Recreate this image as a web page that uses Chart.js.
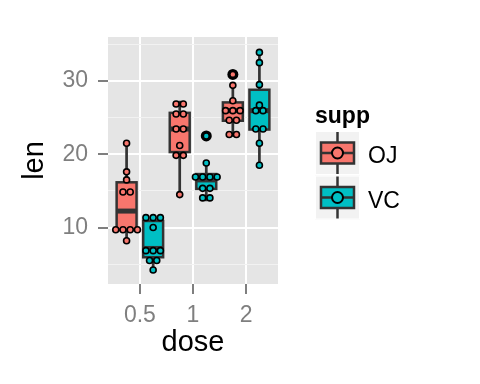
<!DOCTYPE html>
<html>
<head>
<meta charset="utf-8">
<script src="https://cdn.jsdelivr.net/npm/chart.js@4.4.0/dist/chart.umd.min.js"></script>
<style>
  html, body { margin: 0; padding: 0; background: #fff; }
  #wrap { width: 480px; height: 384px; }
</style>
</head>
<body>
<div id="wrap"><canvas id="toothChart" width="480" height="384"></canvas></div>
<script>
const doseLabels = ['0.5', '1', '2'];
const suppNames = ['OJ', 'VC'];
const suppColors = ['#F8766D', '#00BFC4'];
const yTicks = [10, 20, 30];
const yMinorTicks = [5, 15, 25, 35];

// len, one array per supp / dose
const ojDose05 = [15.2, 21.5, 17.6, 9.7, 14.5, 10, 8.2, 9.4, 16.5, 9.7];
const ojDose1 = [19.7, 23.3, 23.6, 26.4, 20, 25.2, 25.8, 21.2, 14.5, 27.3];
const ojDose2 = [25.5, 26.4, 22.4, 24.5, 24.8, 30.9, 26.4, 27.3, 29.4, 23];
const vcDose05 = [4.2, 11.5, 7.3, 5.8, 6.4, 10, 11.2, 11.2, 5.2, 7];
const vcDose1 = [16.5, 16.5, 15.2, 17.3, 22.5, 17.3, 13.6, 14.5, 18.8, 15.5];
const vcDose2 = [23.6, 18.5, 33.9, 25.5, 26.4, 32.5, 26.7, 21.5, 23.3, 29.5];

const groups = [
  [ojDose05, ojDose1, ojDose2],
  [vcDose05, vcDose1, vcDose2]
];

const FONT = "'Liberation Sans', Arial, Helvetica, sans-serif";
const DODGE = 0.25;      // half of dodge width
const BOX_HALF = 0.1875; // half box width
const DOT_STEP = 0.136;  // one dot diameter in x units

function quantile(sorted, p) {
  const h = (sorted.length - 1) * p;
  const lo = Math.floor(h);
  const hi = Math.min(lo + 1, sorted.length - 1);
  return sorted[lo] + (h - lo) * (sorted[hi] - sorted[lo]);
}

function boxStats(values) {
  const s = [...values].sort((a, b) => a - b);
  const q1 = quantile(s, 0.25), med = quantile(s, 0.5), q3 = quantile(s, 0.75);
  const iqr = q3 - q1;
  const inside = s.filter(v => v >= q1 - 1.5 * iqr && v <= q3 + 1.5 * iqr);
  return {
    q1, med, q3,
    lo: inside[0],
    hi: inside[inside.length - 1],
    out: s.filter(v => v < q1 - 1.5 * iqr || v > q3 + 1.5 * iqr)
  };
}

// dot-density binning along y, like geom_dotplot
const allLen = groups.flat(2);
const binwidth = (Math.max(...allLen) - Math.min(...allLen)) / 30;
function dotBins(values) {
  const s = [...values].sort((a, b) => a - b);
  const bins = [];
  let end = -Infinity, cur = null;
  s.forEach(v => {
    if (v >= end) { cur = []; bins.push(cur); end = v + binwidth; }
    cur.push(v);
  });
  return bins.map(b => ({ y: (b[0] + b[b.length - 1]) / 2, n: b.length }));
}

function xPos(supp, dose) {
  return dose + 1 + (supp === 0 ? -DODGE : DODGE);
}

const stats = groups.map(g => g.map(boxStats));

const dotDatasets = groups.map((g, s) => {
  const pts = [];
  g.forEach((vals, d) => {
    dotBins(vals).forEach(b => {
      for (let i = 0; i < b.n; i++) {
        pts.push({ x: xPos(s, d) + (i - (b.n - 1) / 2) * DOT_STEP, y: b.y });
      }
    });
  });
  return {
    label: suppNames[s],
    data: pts,
    backgroundColor: suppColors[s],
    borderColor: '#000000',
    borderWidth: 1.6,
    pointRadius: 3,
    pointHoverRadius: 3
  };
});

const outlierPts = [];
stats.forEach((row, s) => row.forEach((st, d) => {
  st.out.forEach(v => outlierPts.push({ x: xPos(s, d), y: v }));
}));

const panelBg = {
  id: 'panelBg',
  beforeDraw(chart) {
    const { ctx, chartArea: a } = chart;
    ctx.save();
    ctx.fillStyle = '#E5E5E5';
    ctx.fillRect(a.left, a.top, a.right - a.left, a.bottom - a.top);
    ctx.restore();
  }
};

const boxes = {
  id: 'boxes',
  beforeDatasetsDraw(chart) {
    const { ctx, scales: { x, y } } = chart;
    ctx.save();
    ctx.strokeStyle = '#333333';
    stats.forEach((row, s) => row.forEach((st, d) => {
      const c = xPos(s, d);
      const px = x.getPixelForValue(c);
      const l = x.getPixelForValue(c - BOX_HALF);
      const r = x.getPixelForValue(c + BOX_HALF);
      const top = y.getPixelForValue(st.q3), bot = y.getPixelForValue(st.q1);
      ctx.lineWidth = 2.7;
      ctx.beginPath();
      ctx.moveTo(px, y.getPixelForValue(st.hi)); ctx.lineTo(px, top);
      ctx.moveTo(px, bot); ctx.lineTo(px, y.getPixelForValue(st.lo));
      ctx.stroke();
      ctx.fillStyle = suppColors[s];
      ctx.fillRect(l, top, r - l, bot - top);
      ctx.lineWidth = 2.5;
      ctx.strokeRect(l, top, r - l, bot - top);
      ctx.lineWidth = 5;
      ctx.beginPath();
      const m = y.getPixelForValue(st.med);
      ctx.moveTo(l, m); ctx.lineTo(r, m);
      ctx.stroke();
    }));
    ctx.restore();
  }
};

const suppLegend = {
  id: 'suppLegend',
  afterDraw(chart) {
    const ctx = chart.ctx;
    ctx.save();
    ctx.fillStyle = '#000000';
    ctx.font = 'bold 23px ' + FONT;
    ctx.textBaseline = 'alphabetic';
    ctx.textAlign = 'left';
    ctx.fillText('supp', 315, 122.5);
    suppNames.forEach((name, i) => {
      const kx = 315, ky = 131 + i * 44.5, kw = 45, kh = 44;
      const cx = kx + kw / 2, cy = ky + kh / 2;
      ctx.fillStyle = '#F2F2F2';
      ctx.fillRect(kx, ky, kw, kh);
      ctx.strokeStyle = '#FFFFFF';
      ctx.lineWidth = 1;
      ctx.strokeRect(kx + 0.5, ky + 0.5, kw - 1, kh - 1);
      ctx.strokeStyle = '#333333';
      ctx.lineWidth = 2.5;
      ctx.beginPath();
      ctx.moveTo(cx, ky + 1); ctx.lineTo(cx, ky + kh - 1);
      ctx.stroke();
      ctx.fillStyle = suppColors[i];
      ctx.fillRect(kx + 6, cy - 10.5, kw - 12, 21);
      ctx.strokeRect(kx + 6, cy - 10.5, kw - 12, 21);
      ctx.lineWidth = 2.5;
      ctx.beginPath();
      ctx.moveTo(kx + 6, cy); ctx.lineTo(kx + kw - 6, cy);
      ctx.stroke();
      ctx.beginPath();
      ctx.arc(cx, cy, 5.5, 0, Math.PI * 2);
      ctx.fillStyle = suppColors[i];
      ctx.fill();
      ctx.strokeStyle = '#000000';
      ctx.lineWidth = 2;
      ctx.stroke();
      ctx.fillStyle = '#000000';
      ctx.font = '23px ' + FONT;
      ctx.textBaseline = 'middle';
      ctx.fillText(name, 368, cy + 4);
    });
    ctx.restore();
  }
};

const ctx = document.getElementById('toothChart').getContext('2d');
new Chart(ctx, {
  type: 'scatter',
  data: {
    datasets: [
      dotDatasets[0],
      dotDatasets[1],
      {
        label: 'outliers',
        data: outlierPts,
        backgroundColor: '#000000',
        borderColor: '#000000',
        borderWidth: 0,
        pointRadius: 5.5,
        pointHoverRadius: 5.5
      }
    ]
  },
  options: {
    responsive: false,
    animation: false,
    events: [],
    layout: { padding: { top: 37, right: 202, left: 0, bottom: 0 } },
    plugins: {
      legend: { display: false },
      tooltip: { enabled: false }
    },
    scales: {
      x: {
        type: 'linear',
        min: 0.4,
        max: 3.6,
        afterBuildTicks: s => { s.ticks = doseLabels.map((_, i) => ({ value: i + 1 })); },
        afterFit: s => { s.height = 100; },
        ticks: {
          callback: v => doseLabels[v - 1],
          color: '#7F7F7F',
          font: { family: FONT, size: 23 },
          padding: 8,
          autoSkip: false,
          maxRotation: 0
        },
        grid: { color: '#FFFFFF', lineWidth: 2, tickColor: '#7F7F7F', tickLength: 10, tickWidth: 2 },
        border: { display: false },
        title: {
          display: true,
          text: 'dose',
          color: '#000000',
          font: { family: FONT, size: 29 },
          padding: { top: 0, bottom: 24 }
        }
      },
      y: {
        type: 'linear',
        min: 2.3,
        max: 36,
        afterBuildTicks: s => {
          s.ticks = [...yMinorTicks, ...yTicks].sort((a, b) => a - b).map(v => ({ value: v }));
        },
        afterFit: s => { s.width = 108; },
        ticks: {
          callback: v => (yTicks.includes(v) ? String(v) : ''),
          color: '#7F7F7F',
          font: { family: FONT, size: 23 },
          padding: 10,
          autoSkip: false
        },
        grid: {
          color: c => (yTicks.includes(c.tick.value) ? '#FFFFFF' : '#F2F2F2'),
          lineWidth: c => (yTicks.includes(c.tick.value) ? 2 : 1),
          tickColor: c => (yTicks.includes(c.tick.value) ? '#7F7F7F' : 'rgba(0,0,0,0)'),
          tickLength: 10,
          tickWidth: 2
        },
        border: { display: false },
        title: {
          display: true,
          text: 'len',
          color: '#000000',
          font: { family: FONT, size: 29 },
          padding: { top: 18, bottom: 0 }
        }
      }
    }
  },
  plugins: [panelBg, boxes, suppLegend]
});
</script>
</body>
</html>
